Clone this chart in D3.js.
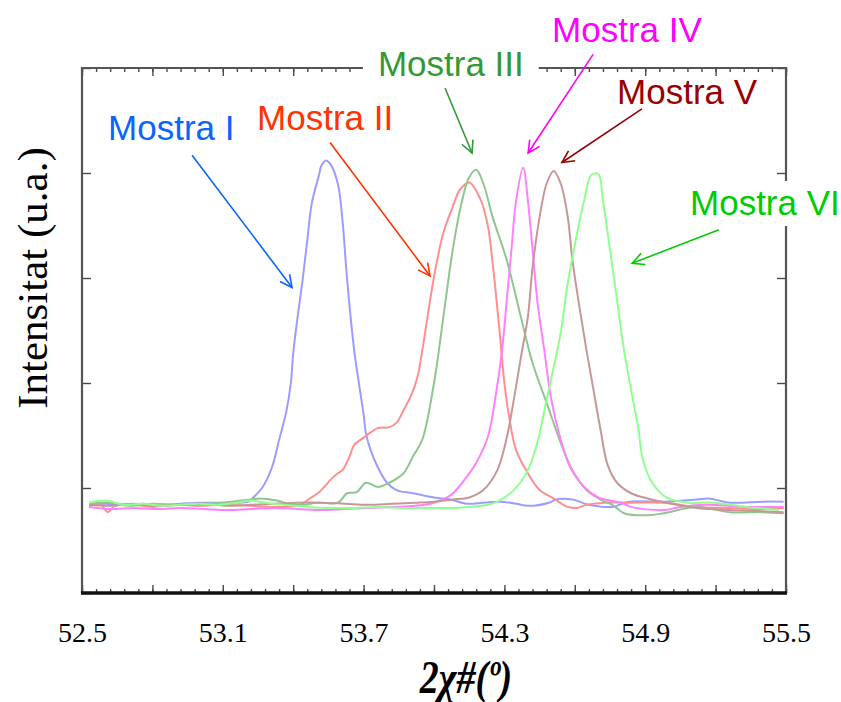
<!DOCTYPE html>
<html>
<head>
<meta charset="utf-8">
<script src="https://cdn.jsdelivr.net/npm/d3@7"></script>
<style>
  html, body { margin: 0; padding: 0; background: #fff; }
  svg { display: block; }
</style>
</head>
<body>
<svg id="chart" width="841" height="702"></svg>
<script>
// XRD scans around the 2θ ≈ 54° reflection for six samples: [2θ (deg), intensity (a.u.)]
const mostraI = [
  [52.53,0.84],[52.60,0.85],[52.68,0.84],[52.76,0.85],[52.84,0.84],[52.92,0.85],[53.00,0.86],
  [53.08,0.86],[53.15,0.86],[53.21,0.87],[53.23,0.91],[53.27,1.01],[53.31,1.20],[53.34,1.46],
  [53.37,1.72],[53.39,2.00],[53.40,2.28],[53.42,2.65],[53.44,2.98],[53.46,3.36],[53.48,3.72],
  [53.51,3.98],[53.52,4.07],[53.54,4.12],[53.56,4.08],[53.59,3.90],[53.61,3.55],[53.63,2.98],
  [53.66,2.31],[53.70,1.70],[53.71,1.52],[53.73,1.36],[53.76,1.20],[53.80,1.05],[53.84,0.98],
  [53.91,0.95],[54.00,0.91],[54.07,0.89],[54.14,0.85],[54.21,0.86],[54.28,0.87],[54.35,0.85],
  [54.40,0.83],[54.49,0.86],[54.52,0.89],[54.59,0.89],[54.66,0.84],[54.76,0.82],[54.83,0.87],
  [54.98,0.87],[55.12,0.89],[55.17,0.90],[55.26,0.86],[55.40,0.87],[55.49,0.87]
];
const mostraII = [
  [52.53,0.83],[52.58,0.84],[52.61,0.77],[52.64,0.83],[52.72,0.84],[52.80,0.82],[52.90,0.84],
  [53.00,0.83],[53.10,0.84],[53.22,0.83],[53.30,0.82],[53.36,0.82],[53.43,0.84],[53.47,0.90],
  [53.51,0.96],[53.56,1.08],[53.59,1.14],[53.61,1.17],[53.64,1.30],[53.66,1.41],[53.70,1.48],
  [53.73,1.53],[53.76,1.57],[53.81,1.58],[53.84,1.62],[53.87,1.74],[53.90,1.87],[53.93,2.06],
  [53.95,2.31],[54.00,3.01],[54.04,3.43],[54.08,3.68],[54.11,3.84],[54.15,3.91],[54.20,3.74],
  [54.23,3.49],[54.25,3.14],[54.28,2.48],[54.30,2.00],[54.32,1.68],[54.35,1.36],[54.40,1.14],
  [54.45,0.98],[54.51,0.90],[54.57,0.82],[54.61,0.81],[54.65,0.84],[54.73,0.86],[54.83,0.86],
  [54.98,0.86],[55.12,0.82],[55.26,0.81],[55.40,0.80],[55.49,0.81]
];
const mostraIII = [
  [52.53,0.85],[52.62,0.86],[52.70,0.83],[52.80,0.85],[52.90,0.84],[53.00,0.85],[53.10,0.86],
  [53.18,0.88],[53.26,0.90],[53.33,0.88],[53.40,0.84],[53.45,0.84],[53.50,0.86],[53.59,0.86],
  [53.63,0.95],[53.67,0.96],[53.71,1.05],[53.76,1.01],[53.81,1.05],[53.87,1.14],[53.91,1.30],
  [53.95,1.46],[54.00,2.00],[54.04,2.63],[54.08,3.27],[54.12,3.74],[54.15,3.96],[54.18,4.03],
  [54.21,3.90],[54.25,3.58],[54.31,3.17],[54.37,2.63],[54.42,2.19],[54.48,1.81],[54.54,1.43],
  [54.59,1.17],[54.65,0.98],[54.71,0.89],[54.76,0.84],[54.81,0.76],[54.91,0.74],[54.98,0.76],
  [55.12,0.82],[55.26,0.77],[55.40,0.77],[55.49,0.76]
];
const mostraIV = [
  [52.53,0.82],[52.62,0.80],[52.72,0.81],[52.82,0.80],[52.92,0.81],[53.02,0.80],[53.12,0.79],
  [53.22,0.80],[53.32,0.81],[53.42,0.80],[53.52,0.79],[53.62,0.80],[53.72,0.81],[53.82,0.82],
  [53.92,0.83],[54.00,0.86],[54.07,0.93],[54.12,1.05],[54.18,1.24],[54.23,1.49],[54.26,1.84],
  [54.29,2.31],[54.31,2.79],[54.33,3.27],[54.35,3.74],[54.38,4.05],[54.40,3.74],[54.42,3.27],
  [54.44,2.79],[54.47,2.31],[54.50,1.84],[54.54,1.46],[54.58,1.20],[54.64,1.01],[54.70,0.91],
  [54.75,0.88],[54.80,0.86],[54.84,0.82],[54.98,0.79],[55.05,0.82],[55.16,0.84],[55.33,0.82],
  [55.49,0.82]
];
const mostraV = [
  [52.53,0.84],[52.62,0.83],[52.72,0.85],[52.82,0.83],[52.92,0.84],[53.02,0.85],[53.12,0.83],
  [53.22,0.84],[53.32,0.85],[53.42,0.86],[53.52,0.86],[53.62,0.85],[53.72,0.84],[53.82,0.85],
  [53.92,0.86],[54.00,0.87],[54.08,0.89],[54.15,0.91],[54.21,0.98],[54.27,1.17],[54.31,1.48],
  [54.34,1.84],[54.37,2.24],[54.40,2.63],[54.42,3.10],[54.45,3.58],[54.48,3.90],[54.51,4.02],
  [54.54,3.90],[54.57,3.58],[54.59,3.17],[54.62,2.72],[54.65,2.31],[54.68,1.93],[54.71,1.55],
  [54.74,1.22],[54.78,1.05],[54.84,0.95],[54.91,0.90],[54.99,0.86],[55.12,0.81],[55.26,0.79],
  [55.38,0.78],[55.49,0.77]
];
const mostraVI = [
  [52.53,0.86],[52.60,0.88],[52.68,0.84],[52.76,0.85],[52.84,0.83],[52.92,0.84],[53.00,0.85],
  [53.08,0.84],[53.16,0.86],[53.22,0.88],[53.28,0.86],[53.36,0.84],[53.46,0.82],[53.56,0.81],
  [53.66,0.81],[53.76,0.82],[53.86,0.81],[53.96,0.81],[54.06,0.81],[54.15,0.82],[54.23,0.84],
  [54.27,0.87],[54.34,0.98],[54.40,1.17],[54.44,1.43],[54.48,1.84],[54.51,2.15],[54.54,2.48],
  [54.57,2.95],[54.61,3.43],[54.64,3.74],[54.67,3.98],[54.70,3.99],[54.72,3.74],[54.75,3.27],
  [54.78,2.79],[54.81,2.31],[54.84,1.93],[54.87,1.58],[54.89,1.27],[54.93,1.05],[54.99,0.91],
  [55.08,0.86],[55.19,0.86],[55.33,0.82],[55.47,0.79]
];

const sampleNames = ["Mostra I", "Mostra II", "Mostra III", "Mostra IV", "Mostra V", "Mostra VI"];
const sampleData = [mostraI, mostraII, mostraIII, mostraIV, mostraV, mostraVI];
const labelColors = ["#0a64ff", "#ff3300", "#339933", "#ff00ff", "#990000", "#00cc00"];
const curveColors = ["#9c9cff", "#ff8f8f", "#8fc68f", "#ff80ff", "#c79797", "#8fff8f"];

// Annotation placement in data units: text anchor, arrow tail, arrow head
const labelPos  = [[52.611,4.31],[53.246,4.41],[53.761,4.92],[54.503,5.25],[54.780,4.66],[55.091,3.60]];
const arrowTail = [[52.969,4.17],[53.557,4.29],[54.047,4.81],[54.678,5.13],[54.886,4.61],[55.214,3.46]];
const arrowHead = [[53.395,2.91],[53.983,3.02],[54.162,4.19],[54.401,4.19],[54.545,4.10],[54.844,3.14]];
const labelBoxed = [false, false, true, false, false, true];

const xTickLabels = ["52.5", "53.1", "53.7", "54.3", "54.9", "55.5"];
const xMajor = d3.range(0, 11).map(i => +(52.5 + i * 0.3).toFixed(2));
const xMinor = d3.range(0, 51).map(i => +(52.5 + i * 0.06).toFixed(2));
const yMajor = [0, 1, 2, 3, 4, 5];

const svg = d3.select("#chart");
const x = d3.scaleLinear().domain([52.5, 55.5]).range([82, 786]);
const y = d3.scaleLinear().domain([0, 5]).range([593, 68]);

// spectra
const line = d3.line().x(d => x(d[0])).y(d => y(d[1])).curve(d3.curveCatmullRom.alpha(0.5));
svg.append("g").selectAll("path")
  .data(sampleData)
  .join("path")
  .attr("d", line)
  .attr("fill", "none")
  .attr("stroke", (d, i) => curveColors[i])
  .attr("stroke-width", 2)
  .attr("stroke-linejoin", "round");

// frame with inward ticks on all four sides
const frame = svg.append("g");
function tickAxis(axis, transform) {
  const g = frame.append("g").attr("transform", transform).call(axis);
  g.select(".domain").remove();
  g.selectAll("text").remove();
  g.selectAll("line").attr("stroke", "#4a4a4a").attr("stroke-width", 1.4);
  return g;
}
tickAxis(d3.axisBottom(x).tickValues(xMinor).tickSize(-4), "translate(0,593)");
tickAxis(d3.axisBottom(x).tickValues(xMajor).tickSize(-8), "translate(0,593)");
tickAxis(d3.axisTop(x).tickValues(xMinor).tickSize(-4), "translate(0,68)");
tickAxis(d3.axisTop(x).tickValues(xMajor).tickSize(-8), "translate(0,68)");
tickAxis(d3.axisLeft(y).tickValues(yMajor).tickSize(-9), "translate(82,0)");
tickAxis(d3.axisRight(y).tickValues(yMajor).tickSize(-9), "translate(786,0)");

frame.append("path")
  .attr("d", `M${x(52.5)},${y(0)}V${y(5)}H${x(55.5)}V${y(0)}`)
  .attr("fill", "none").attr("stroke", "#555").attr("stroke-width", 2.2);
frame.append("line")
  .attr("x1", x(52.5) - 1).attr("x2", x(55.5) + 1)
  .attr("y1", y(0)).attr("y2", y(0))
  .attr("stroke", "#111").attr("stroke-width", 3.6);

// x tick labels
const xl = svg.append("g").attr("transform", "translate(0,593)")
  .call(d3.axisBottom(x).tickValues(xTickLabels.map(Number)).tickSize(0).tickPadding(29)
    .tickFormat((d, i) => xTickLabels[i]));
xl.select(".domain").remove();
xl.selectAll("text")
  .attr("font-family", "'Liberation Serif', 'Times New Roman', serif")
  .attr("font-size", 28).attr("fill", "#000");

// axis titles
svg.append("text")
  .attr("transform", "translate(47,278) rotate(-90)")
  .attr("text-anchor", "middle")
  .attr("font-family", "'Liberation Serif', 'Times New Roman', serif")
  .attr("font-size", 43)
  .attr("fill", "#000")
  .text("Intensitat (u.a.)");

svg.append("text")
  .attr("transform", "translate(466,693) scale(0.95,1.15)")
  .attr("text-anchor", "middle")
  .attr("font-family", "'Liberation Serif', 'Times New Roman', serif")
  .attr("font-style", "italic")
  .attr("font-weight", "bold")
  .attr("font-size", 40)
  .attr("fill", "#000")
  .text("2χ#(º)");

// annotations: labels with arrows
const defs = svg.append("defs");
labelColors.forEach((c, i) => {
  defs.append("marker")
    .attr("id", "head" + i)
    .attr("viewBox", "-14 -8 16 16")
    .attr("refX", 0).attr("refY", 0)
    .attr("markerWidth", 16).attr("markerHeight", 16)
    .attr("markerUnits", "userSpaceOnUse")
    .attr("orient", "auto")
    .append("path")
    .attr("d", "M-12,-6L0,0L-12,6")
    .attr("fill", "none").attr("stroke", c).attr("stroke-width", 1.6);
});

const ann = svg.append("g");
sampleNames.forEach((name, i) => {
  const g = ann.append("g");
  const t = g.append("text")
    .attr("x", x(labelPos[i][0])).attr("y", y(labelPos[i][1]))
    .attr("font-family", "'Liberation Sans', Arial, sans-serif")
    .attr("font-size", 35)
    .attr("fill", labelColors[i])
    .text(name);
  if (labelBoxed[i]) {
    const b = t.node().getBBox();
    g.insert("rect", "text")
      .attr("x", b.x - 15).attr("y", b.y - 2)
      .attr("width", b.width + 30).attr("height", b.height + 6)
      .attr("fill", "#fff");
  }
  ann.append("line")
    .attr("x1", x(arrowTail[i][0])).attr("y1", y(arrowTail[i][1]))
    .attr("x2", x(arrowHead[i][0])).attr("y2", y(arrowHead[i][1]))
    .attr("stroke", labelColors[i]).attr("stroke-width", 1.6)
    .attr("marker-end", `url(#head${i})`);
});
</script>
</body>
</html>
